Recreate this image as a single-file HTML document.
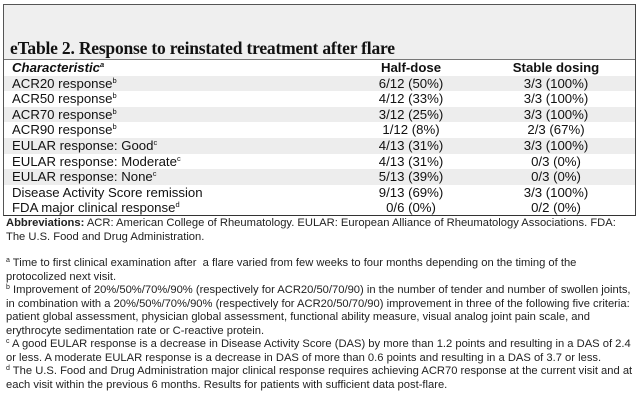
<!DOCTYPE html>
<html><head><meta charset="utf-8"><style>
body{margin:0;width:640px;height:402px;background:#fff;font-family:"Liberation Sans",Arial,sans-serif;color:#111;position:relative;overflow:hidden}
#box{position:absolute;left:3px;top:4px;width:631px;height:210px;border:1px solid #555;border-bottom:1.5px solid #333;border-right:1.5px solid #444;background:#fff}
#titlebar{position:absolute;left:0;top:0;width:631px;height:54px;background:#efefef;border-bottom:1px solid #777}
#title{position:absolute;left:6px;top:33px;font-family:"Liberation Serif",serif;font-weight:bold;font-size:17.5px;letter-spacing:-0.2px}
.row{position:absolute;left:0;width:631px;height:15.6px;font-size:13.2px;line-height:15.6px}
.row.g{background:#ededed}
.c1{position:absolute;left:8px}
.c2{position:absolute;left:337px;width:140px;text-align:center}
.c3{position:absolute;left:487px;width:130px;text-align:center}
sup{font-size:7.5px;vertical-align:5px;line-height:0}
.fn{position:absolute;left:6px;width:640px;font-size:11.2px;line-height:13.6px;color:#222;white-space:nowrap}
.fn sup{font-size:7px;vertical-align:4px}
</style></head><body>
<div id="box">
<div id="titlebar"><div id="title">eTable 2. Response to reinstated treatment after flare</div></div>
<div class="row" style="top:55px;font-weight:bold"><span class="c1" style="font-style:italic">Characteristic<sup>a</sup></span><span class="c2">Half-dose</span><span class="c3">Stable dosing</span></div>
<div class="row g" style="top:70.6px"><span class="c1">ACR20 response<sup>b</sup></span><span class="c2">6/12 (50%)</span><span class="c3">3/3 (100%)</span></div>
<div class="row" style="top:86.2px"><span class="c1">ACR50 response<sup>b</sup></span><span class="c2">4/12 (33%)</span><span class="c3">3/3 (100%)</span></div>
<div class="row g" style="top:101.8px"><span class="c1">ACR70 response<sup>b</sup></span><span class="c2">3/12 (25%)</span><span class="c3">3/3 (100%)</span></div>
<div class="row" style="top:117.4px"><span class="c1">ACR90 response<sup>b</sup></span><span class="c2">1/12 (8%)</span><span class="c3">2/3 (67%)</span></div>
<div class="row g" style="top:133px"><span class="c1">EULAR response: Good<sup>c</sup></span><span class="c2">4/13 (31%)</span><span class="c3">3/3 (100%)</span></div>
<div class="row" style="top:148.6px"><span class="c1">EULAR response: Moderate<sup>c</sup></span><span class="c2">4/13 (31%)</span><span class="c3">0/3 (0%)</span></div>
<div class="row g" style="top:164.2px"><span class="c1">EULAR response: None<sup>c</sup></span><span class="c2">5/13 (39%)</span><span class="c3">0/3 (0%)</span></div>
<div class="row" style="top:179.8px"><span class="c1">Disease Activity Score remission</span><span class="c2">9/13 (69%)</span><span class="c3">3/3 (100%)</span></div>
<div class="row" style="top:195.4px"><span class="c1">FDA major clinical response<sup>d</sup></span><span class="c2">0/6 (0%)</span><span class="c3">0/2 (0%)</span></div>
</div>
<div class="fn" style="top:217px"><b>Abbreviations:</b> ACR: American College of Rheumatology. EULAR: European Alliance of Rheumatology Associations. FDA:<br>The U.S. Food and Drug Administration.</div>
<div class="fn" style="top:257px"><sup>a</sup> Time to first clinical examination after&nbsp; a flare varied from few weeks to four months depending on the timing of the<br>protocolized next visit.</div>
<div class="fn" style="top:284px"><sup>b</sup> Improvement of 20%/50%/70%/90% (respectively for ACR20/50/70/90) in the number of tender and number of swollen joints,<br>in combination with a 20%/50%/70%/90% (respectively for ACR20/50/70/90) improvement in three of the following five criteria:<br>patient global assessment, physician global assessment, functional ability measure, visual analog joint pain scale, and<br>erythrocyte sedimentation rate or C-reactive protein.</div>
<div class="fn" style="top:338px"><sup>c</sup> A good EULAR response is a decrease in Disease Activity Score (DAS) by more than 1.2 points and resulting in a DAS of 2.4<br>or less. A moderate EULAR response is a decrease in DAS of more than 0.6 points and resulting in a DAS of 3.7 or less.</div>
<div class="fn" style="top:365px"><sup>d</sup> The U.S. Food and Drug Administration major clinical response requires achieving ACR70 response at the current visit and at<br>each visit within the previous 6 months. Results for patients with sufficient data post-flare.</div>
</body></html>
